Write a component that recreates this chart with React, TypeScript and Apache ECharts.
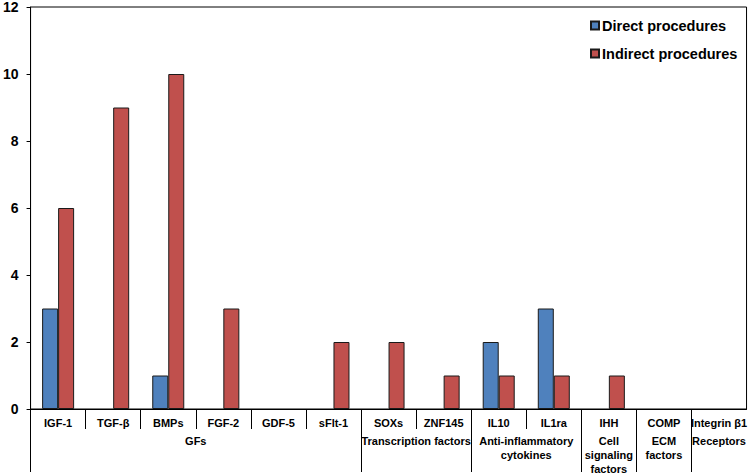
import React, { useEffect, useRef } from "react";
import * as echarts from "echarts";

const categories = ["IGF-1", "TGF-β", "BMPs", "FGF-2", "GDF-5", "sFlt-1", "SOXs", "ZNF145", "IL10", "IL1ra", "IHH", "COMP", "Integrin β1"];
const directValues = [3, null, 1, null, null, null, null, null, 2, 3, null, null, null];
const indirectValues = [6, 9, 10, 3, null, 2, 2, 1, 1, 1, 1, null, null];
const groupNames = ["GFs", "Transcription factors", "Anti-inflammatory\ncytokines", "Cell\nsignaling\nfactors", "ECM\nfactors", "Receptors"];
const groupSizes = [6, 2, 2, 1, 1, 1];
const yTicks = [0, 2, 4, 6, 8, 10, 12];

const FONT = "'Liberation Sans', Arial, sans-serif";

export default function App() {
  const ref = useRef<HTMLDivElement>(null);
  useEffect(() => {
    if (!ref.current) return;
    const chart = echarts.init(ref.current, null, { renderer: "svg" });

    const bounds: number[] = [0];
    const centers: number[] = [];
    let acc = 0;
    groupSizes.forEach((s) => {
      centers.push(acc + s / 2);
      acc += s;
      bounds.push(acc);
    });
    const groupBounds = bounds.slice(0, bounds.length - 1);
    const innerBounds: number[] = [];
    for (let i = 1; i < categories.length; i++) {
      if (!bounds.includes(i)) innerBounds.push(i);
    }

    chart.setOption({
      animation: false,
      textStyle: { fontFamily: FONT },
      grid: {
        left: 28,
        right: 3,
        top: 7,
        bottom: 64,
        show: true,
        borderColor: "#000",
        borderWidth: 1,
        backgroundColor: "transparent",
      },
      legend: {
        orient: "vertical",
        left: 585,
        top: 13,
        itemWidth: 8,
        itemHeight: 8,
        itemGap: 13,
        icon: "rect",
        textStyle: { fontFamily: FONT, fontWeight: "bold", fontSize: 14.5, color: "#000", padding: [0, 0, 0, -2] },
        data: ["Direct procedures", "Indirect procedures"],
      },
      xAxis: [
        {
          type: "category",
          data: categories,
          boundaryGap: true,
          axisLine: { lineStyle: { color: "#000", width: 1 } },
          axisTick: { show: false },
          axisLabel: { interval: 0, margin: 8, fontFamily: FONT, fontWeight: "bold", fontSize: 11, color: "#000" },
          splitLine: { show: false },
        },
        {
          type: "value",
          min: 0,
          max: categories.length,
          position: "bottom",
          axisLine: { show: false },
          axisTick: { show: true, customValues: innerBounds, length: 20, lineStyle: { color: "#000", width: 1 } },
          axisLabel: { show: false },
          splitLine: { show: false },
        },
        {
          type: "value",
          min: 0,
          max: categories.length,
          position: "bottom",
          axisLine: { show: false },
          axisTick: { show: true, customValues: groupBounds, length: 63, lineStyle: { color: "#000", width: 1 } },
          axisLabel: {
            show: true,
            customValues: centers,
            margin: 25,
            fontFamily: FONT,
            fontWeight: "bold",
            fontSize: 11,
            lineHeight: 14,
            color: "#000",
            align: "center",
            hideOverlap: false,
            formatter: (v: number) => {
              const idx = centers.findIndex((c) => Math.abs(c - v) < 1e-6);
              return idx >= 0 ? groupNames[idx] : "";
            },
          },
          splitLine: { show: false },
        },
      ],
      yAxis: {
        type: "value",
        min: 0,
        max: 12,
        interval: 2,
        axisLine: { show: true, lineStyle: { color: "#000", width: 1 } },
        axisTick: { show: true, length: 4, lineStyle: { color: "#000" } },
        axisLabel: {
          margin: 12,
          fontFamily: FONT,
          fontWeight: "bold",
          fontSize: 14,
          color: "#000",
          formatter: (v: number) => (yTicks.includes(v) ? String(v) : ""),
        },
        splitLine: { show: false },
      },
      series: [
        {
          name: "Direct procedures",
          type: "bar",
          xAxisIndex: 0,
          data: directValues,
          barWidth: 16,
          barGap: "0%",
          itemStyle: { color: "#4F81BD", borderColor: "#1a1a1a", borderWidth: 1 },
        },
        {
          name: "Indirect procedures",
          type: "bar",
          xAxisIndex: 0,
          data: indirectValues,
          barWidth: 16,
          barGap: "0%",
          itemStyle: { color: "#C0504D", borderColor: "#1a1a1a", borderWidth: 1 },
        },
      ],
    });
    return () => chart.dispose();
  }, []);
  return <div ref={ref} style={{ width: 750, height: 476, position: "fixed", left: 0, top: 0, background: "#fff" }} />;
}
